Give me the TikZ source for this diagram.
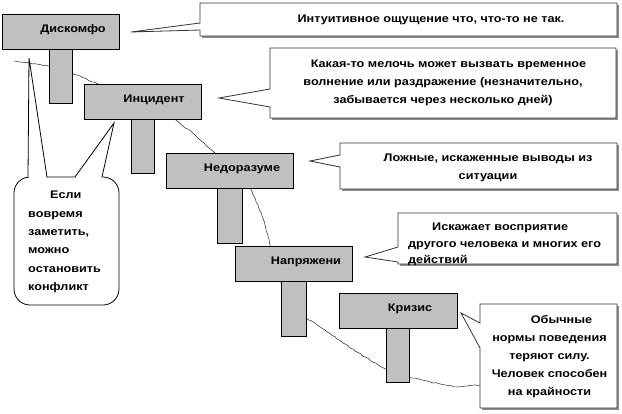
\documentclass[tikz,border=0pt]{standalone}
\usepackage{fontspec}
\setmainfont{Liberation Sans}[FakeStretch=1.15]
\usetikzlibrary{calc,decorations.pathmorphing,shadows}
\definecolor{plategray}{HTML}{C0C0C0}
\definecolor{edgegray}{HTML}{333333}
\definecolor{shadowgray}{HTML}{8C8C8C}
\begin{document}
\begin{tikzpicture}[x=1pt,y=-1pt,
  plate/.style={draw=black, fill=plategray, line width=0.8pt, inner sep=0pt, outer sep=0pt},
  platetext/.style={font=\fontsize{11}{13}\selectfont\bfseries, inner sep=0pt},
  callbox/.style={fill=white, inner sep=0pt, outer sep=0pt,
    drop shadow={shadow xshift=1.8pt, shadow yshift=-1.8pt, fill=shadowgray, opacity=1}},
  callline/.style={draw=edgegray, fill=white, line width=0.8pt, line join=miter},
  calltext/.style={font=\fontsize{11}{18}\selectfont\bfseries, inner sep=0pt},
  roundbox/.style={draw=black, fill=white, line width=0.8pt, rounded corners=16pt, inner sep=0pt, outer sep=0pt},
  wedge/.style={draw=black, fill=white, line width=0.8pt, line join=miter},
  wave/.style={draw=black!85, line width=0.5pt, decorate,
    decoration={random steps, segment length=3pt, amplitude=0.5pt}}
]
\useasboundingbox (0,0) rectangle (622,413);
\pgfmathsetseed{7}
% wavy line behind everything
\coordinate (w0) at (14,61);
\coordinate (w1) at (480,385);
\draw[wave] (w0) -- (49,66) -- (72,73) -- (98,84) -- (140,100) -- (176,120) -- (195,135)
  -- (215,153) -- (235,170) -- (250,188) -- (258,205) -- (265,225) -- (270,245) -- (276,265)
  -- (282,284) -- (306,318) -- (325,330) -- (343,343) -- (365,357) -- (387,370) -- (409,377)
  -- (430,382) -- (457,387) -- (w1);

% stems
\node[plate, minimum width=23pt, minimum height=54pt] (s1) at (60.5,76) {};
\node[plate, minimum width=23pt, minimum height=54pt] (s2) at (142.5,146) {};
\node[plate, minimum width=25pt, minimum height=55pt] (s3) at (229.5,215.5) {};
\node[plate, minimum width=25pt, minimum height=55pt] (s4) at (293.5,308.5) {};
\node[plate, minimum width=23pt, minimum height=54pt] (s5) at (397.5,355) {};

% plates
\node[plate, minimum width=117pt, minimum height=35pt] (p1) at (60.5,31.5) {};
\node[plate, minimum width=117pt, minimum height=35pt] (p2) at (142.5,101.5) {};
\node[plate, minimum width=127pt, minimum height=35pt] (p3) at (229.5,170.5) {};
\node[plate, minimum width=117pt, minimum height=35pt] (p4) at (293.5,263.5) {};
\node[plate, minimum width=118pt, minimum height=35pt] (p5) at (398,310.5) {};
\node[platetext] (p1t) at (73,30) {Дискомфо};
\node[platetext] (p2t) at (154,100) {Инцидент};
\node[platetext] (p3t) at (242,169) {Недоразуме};
\node[platetext] (p4t) at (306,262) {Напряжени};
\node[platetext] (p5t) at (410,309) {Кризис};

% callouts
\coordinate (t1) at (131,32);
\coordinate (t2) at (219,98);
\coordinate (t3) at (310,161);
\coordinate (t4) at (365,257);
\coordinate (t5) at (461,313);

\node[callbox, minimum width=417pt, minimum height=33pt] (c1) at (408.5,19.5) {};
\filldraw[callline] (c1.north west) -- (c1.north east) -- (c1.south east) -- (c1.south west)
  -- ($(c1.north west)+(0,27)$) -- (t1) -- ($(c1.north west)+(0,20)$) -- cycle;

\node[callbox, minimum width=346pt, minimum height=70pt] (c2) at (443,83) {};
\filldraw[callline] (c2.north west) -- (c2.north east) -- (c2.south east) -- (c2.south west)
  -- ($(c2.north west)+(0,59)$) -- (t2) -- ($(c2.north west)+(0,41)$) -- cycle;

\node[callbox, minimum width=277pt, minimum height=46pt] (c3) at (478.5,166) {};
\filldraw[callline] (c3.north west) -- (c3.north east) -- (c3.south east) -- (c3.south west)
  -- ($(c3.north west)+(0,24)$) -- (t3) -- ($(c3.north west)+(0,12)$) -- cycle;

\node[callbox, minimum width=219pt, minimum height=51pt] (c4) at (507.5,238.5) {};
\filldraw[callline] (c4.north west) -- (c4.north east) -- (c4.south east) -- (c4.south west)
  -- ($(c4.north west)+(0,49)$) -- (t4) -- ($(c4.north west)+(0,34)$) -- cycle;

\node[callbox, minimum width=137pt, minimum height=104pt] (c5) at (548.5,356) {};
\filldraw[callline] (c5.north west) -- (c5.north east) -- (c5.south east) -- (c5.south west)
  -- ($(c5.north west)+(0,44)$) -- (t5) -- ($(c5.north west)+(0,19)$) -- cycle;

\node[calltext] (c1t) at (431,20) {Интуитивное ощущение что, что-то не так.};
\node[calltext, align=center] (c2t) at (443,83)
  {\hspace*{11pt}Какая-то мелочь может вызвать временное\\волнение или раздражение (незначительно,\\забывается через несколько дней)};
\node[calltext, align=center] (c3t) at (488,168) {Ложные, искаженные выводы из\\ситуации};
\node[calltext, align=left, anchor=west, font=\fontsize{11}{16.5}\selectfont\bfseries] (c4t) at (408,244.5)
  {\hspace*{24pt}Искажает восприятие\\другого человека и многих его\\действий};
\node[calltext, align=center] (c5t) at (549.5,356.5)
  {\hspace*{24pt}Обычные\\нормы поведения\\теряют силу.\\Человек способен\\на крайности};

% rounded callout on the left
\coordinate (ta) at (29,58);
\coordinate (tb) at (114,123);
\node[roundbox, minimum width=105pt, minimum height=128pt] (r) at (66.5,241) {};
\coordinate (ra1) at ($(r.north west)+(14,0)$);
\coordinate (ra2) at ($(r.north west)+(33,0)$);
\coordinate (rb1) at ($(r.north west)+(61,0)$);
\coordinate (rb2) at ($(r.north west)+(88,0)$);
\filldraw[wedge] (ra1) -- (ta) -- (ra2);
\filldraw[wedge] (rb1) -- (tb) -- (rb2);
\draw[white, line width=1.6pt] ($(ra1)+(0.7,0)$) -- ($(ra2)+(-0.7,0)$);
\draw[white, line width=1.6pt] ($(rb1)+(0.7,0)$) -- ($(rb2)+(-0.7,0)$);
\node[calltext, align=left, anchor=west, font=\fontsize{11}{18.4}\selectfont\bfseries] (rt) at (28,242)
  {\hspace*{22pt}Если\\вовремя\\заметить,\\можно\\остановить\\конфликт};
\end{tikzpicture}
\end{document}
